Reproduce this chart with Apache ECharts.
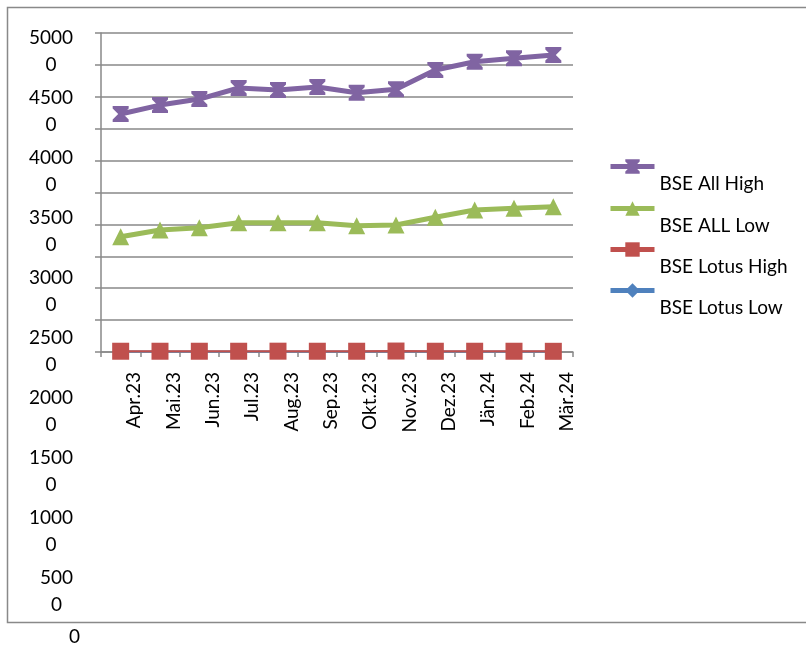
<!DOCTYPE html>
<html><head><meta charset="utf-8">
<script src="https://cdn.jsdelivr.net/npm/echarts@6/dist/echarts.min.js"></script>
<style>html,body{margin:0;padding:0;background:#fff}#c{width:806px;height:646px}</style>
</head><body><div id="c"></div>
<script>
const categories = ['Apr.23','Mai.23','Jun.23','Jul.23','Aug.23','Sep.23','Okt.23','Nov.23','Dez.23','Jän.24','Feb.24','Mär.24'];
const bseAllHigh = [37300,38700,39650,41380,41070,41540,40640,41170,44200,45500,46030,46550];
const bseAllLow = [18070,19120,19480,20270,20270,20270,19800,19900,21110,22260,22520,22780];
const bseLotusHigh = [120,120,120,120,130,120,120,150,120,120,120,110];
const bseLotusLow = [80,80,80,80,90,80,80,100,80,80,80,70];
const yTickLabels = ['0','500\n0','1000\n0','1500\n0','2000\n0','2500\n0','3000\n0','3500\n0','4000\n0','4500\n0','5000\n0'];
const seriesNames = ['BSE All High','BSE ALL Low','BSE Lotus High','BSE Lotus Low'];
const colors = ['#8064A2','#9BBB59','#C0504D','#4F81BD'];
const FONT = 'Lato';
const GRAY = '#898989';
const hourglass = 'path://M0,0 L16,0 L16,2.5 L10.5,8 L16,13.5 L16,16 L0,16 L0,13.5 L5.5,8 L0,2.5 Z';

const chart = echarts.init(document.getElementById('c'), null, {renderer:'canvas'});
const legendTops = [140, 182, 223, 264];
const legends = seriesNames.map((n,i)=>({
  data:[n], orient:'vertical', left:608, top:legendTops[i], padding:0,
  itemWidth:44, itemHeight:18, itemGap:0,
  lineStyle:{width:5},
  formatter:'{a|{name}}',
  textStyle:{rich:{a:{fontFamily:FONT,fontSize:19,color:'#000',lineHeight:22,padding:[34,0,0,0]}}}
}));
const option = {
  animation:false,
  backgroundColor:'#fff',
  color:colors,
  textStyle:{fontFamily:FONT},
  graphic:[{type:'rect',shape:{x:7.5,y:7.5,width:800,height:615},style:{fill:'none',stroke:GRAY,lineWidth:1.5},silent:true}],
  legend:legends,
  grid:[
    {left:101,right:233,top:33,bottom:294,outerBoundsMode:'none'},
    {left:101,width:1,top:51.5,bottom:-5.5,outerBoundsMode:'none'}
  ],
  xAxis:[
    {type:'category',gridIndex:0,data:categories,boundaryGap:true,
     axisLine:{lineStyle:{color:GRAY,width:1.5}},
     axisTick:{show:true,length:5,lineStyle:{color:GRAY,width:1.5}},
     axisLabel:{rotate:90,margin:20,color:'#000',fontFamily:FONT,fontSize:19,interval:0,verticalAlign:'top',lineHeight:27}},
    {type:'value',gridIndex:1,show:false}
  ],
  yAxis:[
    {type:'value',gridIndex:0,min:0,max:50000,interval:5000,
     axisLine:{show:true,lineStyle:{color:GRAY,width:1.5}},
     axisTick:{show:true,length:6,lineStyle:{color:GRAY,width:1.5}},
     splitLine:{show:true,lineStyle:{color:GRAY,width:1.5}},
     axisLabel:{show:false}},
    {type:'value',gridIndex:1,min:0,max:50000,interval:5000,
     axisLine:{show:false},axisTick:{show:false},splitLine:{show:false},
     axisLabel:{margin:28,align:'right',color:'#000',
       formatter:function(v){
         const i=Math.round(v/5000); const t=yTickLabels[i];
         if(i===0) return '{z|'+t+'}';
         return t.split('\n').map(s=>'{c|'+s+'}').join('\n');
       },
       rich:{
         c:{align:'center',fontFamily:FONT,fontSize:19,lineHeight:27,color:'#000'},
         z:{fontFamily:FONT,fontSize:19,lineHeight:27,color:'#000',padding:[0,-7,29,0]}
       }}}
  ],
  series:[
    {name:seriesNames[3],type:'line',data:bseLotusLow,symbol:'diamond',symbolSize:13,
     itemStyle:{color:colors[3]},lineStyle:{width:2,color:colors[3]},z:2},
    {name:seriesNames[2],type:'line',data:bseLotusHigh,symbol:'rect',symbolSize:17,
     itemStyle:{color:colors[2]},lineStyle:{width:2,color:colors[2]},z:3},
    {name:seriesNames[1],type:'line',data:bseAllLow,symbol:'triangle',symbolSize:17,
     itemStyle:{color:colors[1]},lineStyle:{width:5,color:colors[1]},z:4},
    {name:seriesNames[0],type:'line',data:bseAllHigh,symbol:hourglass,symbolSize:16,
     itemStyle:{color:colors[0]},lineStyle:{width:5,color:colors[0]},z:5}
  ]
};
chart.setOption(option);
</script></body></html>
